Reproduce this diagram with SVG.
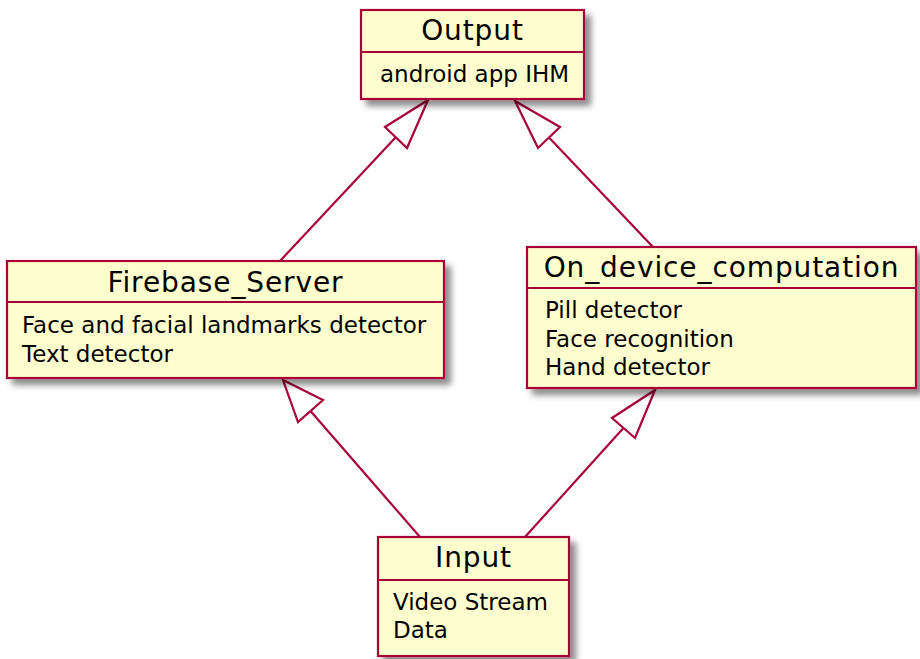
<svg xmlns="http://www.w3.org/2000/svg" width="920" height="659" viewBox="0 0 920 659">
<style>
.box{fill:#FEFECE;stroke:#A80036;stroke-width:2.2;filter:url(#sh)}
.sep{stroke:#A80036;stroke-width:2.2}
.title{font-family:"DejaVu Sans",sans-serif;font-size:28px;letter-spacing:0.9px;fill:#000;text-anchor:middle}
.body{font-family:"DejaVu Sans",sans-serif;font-size:23px;fill:#000}
.edge{stroke:#A80036;stroke-width:2.2;fill:none}
.head{fill:#FFFFFF;stroke:#A80036;stroke-width:2.2}
</style>
<defs>
<filter id="sh" x="-10%" y="-10%" width="130%" height="140%">
<feDropShadow dx="6" dy="6" stdDeviation="3" flood-color="#000" flood-opacity="0.45"/>
</filter>
</defs>
<rect width="920" height="659" fill="#FFFFFF"/>
<g id="connectors">
<line class="edge" x1="396" y1="137" x2="280" y2="261"/>
<polygon class="head" points="428,100 385,127 407,148"/>
<line class="edge" x1="549" y1="137.5" x2="653" y2="247"/>
<polygon class="head" points="515,101 560,127 538,148"/>
<line class="edge" x1="310.5" y1="411" x2="420" y2="537"/>
<polygon class="head" points="283,380 323,400 298,422"/>
<line class="edge" x1="623.5" y1="428" x2="525" y2="537"/>
<polygon class="head" points="655,390 612,418 635,438"/>
</g>
<g id="Output">
<rect class="box" x="361" y="10" width="223" height="89"/>
<line class="sep" x1="361" y1="52" x2="584" y2="52"/>
<text class="title" x="472.5" y="40">Output</text>
<text class="body" x="380" y="82">android app IHM</text>
</g>
<g id="Firebase_Server">
<rect class="box" x="7" y="261" width="437" height="117"/>
<line class="sep" x1="7" y1="302" x2="444" y2="302"/>
<text class="title" x="225.5" y="292">Firebase_Server</text>
<text class="body" x="22" y="333">Face and facial landmarks detector</text>
<text class="body" x="22" y="362">Text detector</text>
</g>
<g id="On_device_computation">
<rect class="box" x="527" y="247" width="389" height="141"/>
<line class="sep" x1="527" y1="288" x2="916" y2="288"/>
<text class="title" x="721.5" y="277">On_device_computation</text>
<text class="body" x="545" y="318">Pill detector</text>
<text class="body" x="545" y="347">Face recognition</text>
<text class="body" x="545" y="375">Hand detector</text>
</g>
<g id="Input">
<rect class="box" x="378" y="537" width="191" height="119"/>
<line class="sep" x1="378" y1="580" x2="569" y2="580"/>
<text class="title" x="473.5" y="567">Input</text>
<text class="body" x="393" y="610">Video Stream</text>
<text class="body" x="393" y="638">Data</text>
</g>
</svg>
